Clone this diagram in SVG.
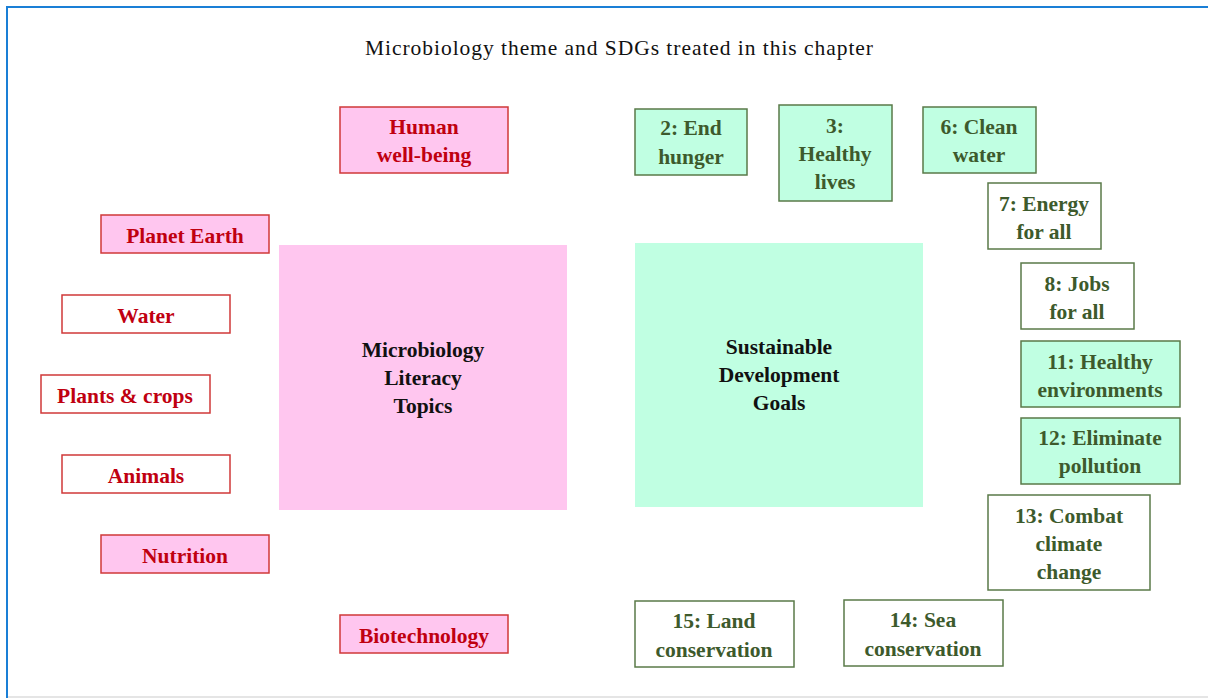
<svg xmlns="http://www.w3.org/2000/svg" width="1208" height="698" viewBox="0 0 1208 698">
<style>
.t{font-family:"Liberation Serif",serif;text-anchor:middle}
.title{font-size:21.5px;fill:#111}
.red{font-size:21.5px;fill:#c00010;font-weight:bold}
.grn{font-size:21.5px;fill:#3d5a2c;font-weight:bold}
.big{font-size:21.5px;fill:#111;font-weight:bold}
.pk{fill:#ffc6ef;stroke:#d03838;stroke-width:1.5}
.pw{fill:#fff;stroke:#d03838;stroke-width:1.5}
.gm{fill:#c0ffe2;stroke:#5a7a48;stroke-width:1.5}
.gw{fill:#fff;stroke:#5a7a48;stroke-width:1.5}
</style>
<rect x="0" y="0" width="1208" height="698" fill="#fff"/>
<rect x="7" y="7" width="1210" height="700" fill="none" stroke="#1a7fd6" stroke-width="2"/>
<line x1="8" y1="697" x2="1208" y2="697" stroke="#ddd" stroke-width="1.5"/>
<text class="t title" x="619" y="55" textLength="508" lengthAdjust="spacing">Microbiology theme and SDGs treated in this chapter</text>

<g id="mlt"><rect x="279" y="245" width="288" height="265" fill="#ffc6ef"/>
<text class="t big" x="423" y="357">Microbiology</text><text class="t big" x="423" y="385">Literacy</text><text class="t big" x="423" y="413">Topics</text></g>
<g id="sdg"><rect x="635" y="243" width="288" height="264" fill="#c0ffe2"/>
<text class="t big" x="779" y="354">Sustainable</text><text class="t big" x="779" y="382">Development</text><text class="t big" x="779" y="410">Goals</text></g>

<g id="human"><rect class="pk" x="340" y="107" width="168" height="66"/><text class="t red" x="424" y="134">Human</text><text class="t red" x="424" y="162">well-being</text></g>
<g id="planet"><rect class="pk" x="101" y="215" width="168" height="38"/><text class="t red" x="185" y="243">Planet Earth</text></g>
<g id="water"><rect class="pw" x="62" y="295" width="168" height="38"/><text class="t red" x="146" y="323">Water</text></g>
<g id="plants"><rect class="pw" x="41" y="375" width="169" height="38"/><text class="t red" x="125" y="403">Plants &amp; crops</text></g>
<g id="animals"><rect class="pw" x="62" y="455" width="168" height="38"/><text class="t red" x="146" y="483">Animals</text></g>
<g id="nutrition"><rect class="pk" x="101" y="535" width="168" height="38"/><text class="t red" x="185" y="563">Nutrition</text></g>
<g id="biotech"><rect class="pk" x="340" y="615" width="168" height="38"/><text class="t red" x="424" y="643">Biotechnology</text></g>

<g id="sdg2"><rect class="gm" x="635" y="109" width="112" height="66"/><text class="t grn" x="691" y="135">2: End</text><text class="t grn" x="691" y="164">hunger</text></g>
<g id="sdg3"><rect class="gm" x="779" y="105" width="113" height="96"/><text class="t grn" x="835" y="133">3:</text><text class="t grn" x="835" y="161">Healthy</text><text class="t grn" x="835" y="189">lives</text></g>
<g id="sdg6"><rect class="gm" x="923" y="107" width="113" height="66"/><text class="t grn" x="979" y="134">6: Clean</text><text class="t grn" x="979" y="162">water</text></g>
<g id="sdg7"><rect class="gw" x="988" y="183" width="113" height="66"/><text class="t grn" x="1044" y="211">7: Energy</text><text class="t grn" x="1044" y="239">for all</text></g>
<g id="sdg8"><rect class="gw" x="1021" y="263" width="113" height="66"/><text class="t grn" x="1077" y="291">8: Jobs</text><text class="t grn" x="1077" y="319">for all</text></g>
<g id="sdg11"><rect class="gm" x="1021" y="341" width="159" height="66"/><text class="t grn" x="1100" y="369">11: Healthy</text><text class="t grn" x="1100" y="397">environments</text></g>
<g id="sdg12"><rect class="gm" x="1021" y="418" width="159" height="66"/><text class="t grn" x="1100" y="445">12: Eliminate</text><text class="t grn" x="1100" y="473">pollution</text></g>
<g id="sdg13"><rect class="gw" x="988" y="495" width="162" height="95"/><text class="t grn" x="1069" y="523">13: Combat</text><text class="t grn" x="1069" y="551">climate</text><text class="t grn" x="1069" y="579">change</text></g>
<g id="sdg15"><rect class="gw" x="635" y="601" width="159" height="66"/><text class="t grn" x="714" y="628">15: Land</text><text class="t grn" x="714" y="657">conservation</text></g>
<g id="sdg14"><rect class="gw" x="844" y="600" width="159" height="66"/><text class="t grn" x="923" y="627">14: Sea</text><text class="t grn" x="923" y="656">conservation</text></g>
<g id="connectors"></g>
</svg>
